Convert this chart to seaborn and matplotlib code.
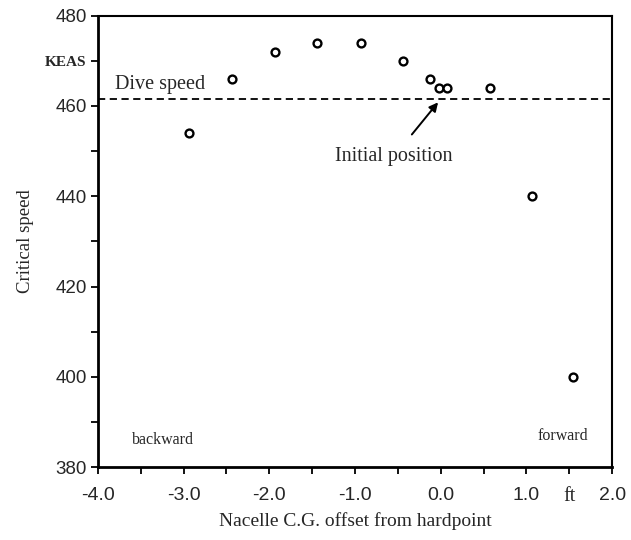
import numpy as np
import pandas as pd
import matplotlib
matplotlib.use('Agg')
import matplotlib.pyplot as plt
import seaborn as sns

# Valores
offset_ft = [-2.94, -2.43, -1.93, -1.44, -0.93, -0.44, -0.13, -0.02, 0.07, 0.57, 1.06, 1.54]
critical_keas = [454, 466, 472, 474, 474, 470, 466, 464, 464, 464, 440, 400]
dive_speed = 461.5

x_ticks = [-4.0, -3.5, -3.0, -2.5, -2.0, -1.5, -1.0, -0.5, 0.0, 0.5, 1.0, 1.5, 2.0]
x_labels = ['-4.0', '', '-3.0', '', '-2.0', '', '-1.0', '', '0.0', '', '1.0', 'ft', '2.0']
y_ticks = [380, 390, 400, 410, 420, 430, 440, 450, 460, 470, 480]
y_labels = ['380', '', '400', '', '420', '', '440', '', '460', 'KEAS', '480']

dados = pd.DataFrame({'offset': offset_ft, 'speed': critical_keas})

sns.set_style('ticks')
plt.rcParams['font.family'] = ['Liberation Serif', 'DejaVu Serif']

fig = plt.figure(figsize=(6.31, 5.40), dpi=100)
ax = fig.add_axes([0.155, 0.135, 0.815, 0.836])

sns.scatterplot(data=dados, x='offset', y='speed', ax=ax, marker='o', s=32,
                facecolor='white', edgecolor='black', linewidth=1.7, zorder=3)
ax.axhline(dive_speed, color='black', linestyle=(0, (4, 2.5)), linewidth=1.3)

ax.set_xlim(-4.0, 2.0)
ax.set_ylim(380, 480)
ax.set_xticks(x_ticks)
ax.set_xticklabels(x_labels, fontsize=14, family=['Liberation Sans', 'DejaVu Sans'])
ax.set_yticks(y_ticks)
ax.set_yticklabels(y_labels, fontsize=13.5, family=['Liberation Sans', 'DejaVu Sans'])
for lbl in ax.get_yticklabels():
    if lbl.get_text() == 'KEAS':
        lbl.set_fontsize(11)
        lbl.set_family(['Liberation Serif', 'DejaVu Serif'])
        lbl.set_fontweight('bold')
for lbl in ax.get_xticklabels():
    if lbl.get_text() == 'ft':
        lbl.set_family(['Liberation Serif', 'DejaVu Serif'])
        lbl.set_fontsize(14.5)
ax.tick_params(direction='out', length=5, width=1.3, color='black', pad=3)
ax.tick_params(axis='x', pad=9)

for side in ['left', 'bottom', 'right', 'top']:
    ax.spines[side].set_visible(True)
    ax.spines[side].set_color('black')
ax.spines['left'].set_linewidth(2.0)
ax.spines['bottom'].set_linewidth(2.0)
ax.spines['right'].set_linewidth(1.5)
ax.spines['top'].set_linewidth(1.5)

ax.set_xlabel('Nacelle C.G. offset from hardpoint', fontsize=14, labelpad=5)
ax.set_ylabel('Critical speed', fontsize=13.5, labelpad=8)

ax.text(-3.8, 462.6, 'Dive speed', fontsize=14.5, ha='left', va='bottom')
ax.annotate('Initial position', xy=(-0.03, 460.8), xytext=(-0.55, 448.7),
            fontsize=14.5, ha='center', va='center',
            arrowprops=dict(arrowstyle='-|>', color='black', lw=1.4,
                            shrinkA=9, shrinkB=0, mutation_scale=13))
ax.text(-3.24, 386, 'backward', fontsize=11.5, ha='center', va='center')
ax.text(1.43, 386.8, 'forward', fontsize=11.5, ha='center', va='center')

plt.savefig('out.png', dpi=100)
